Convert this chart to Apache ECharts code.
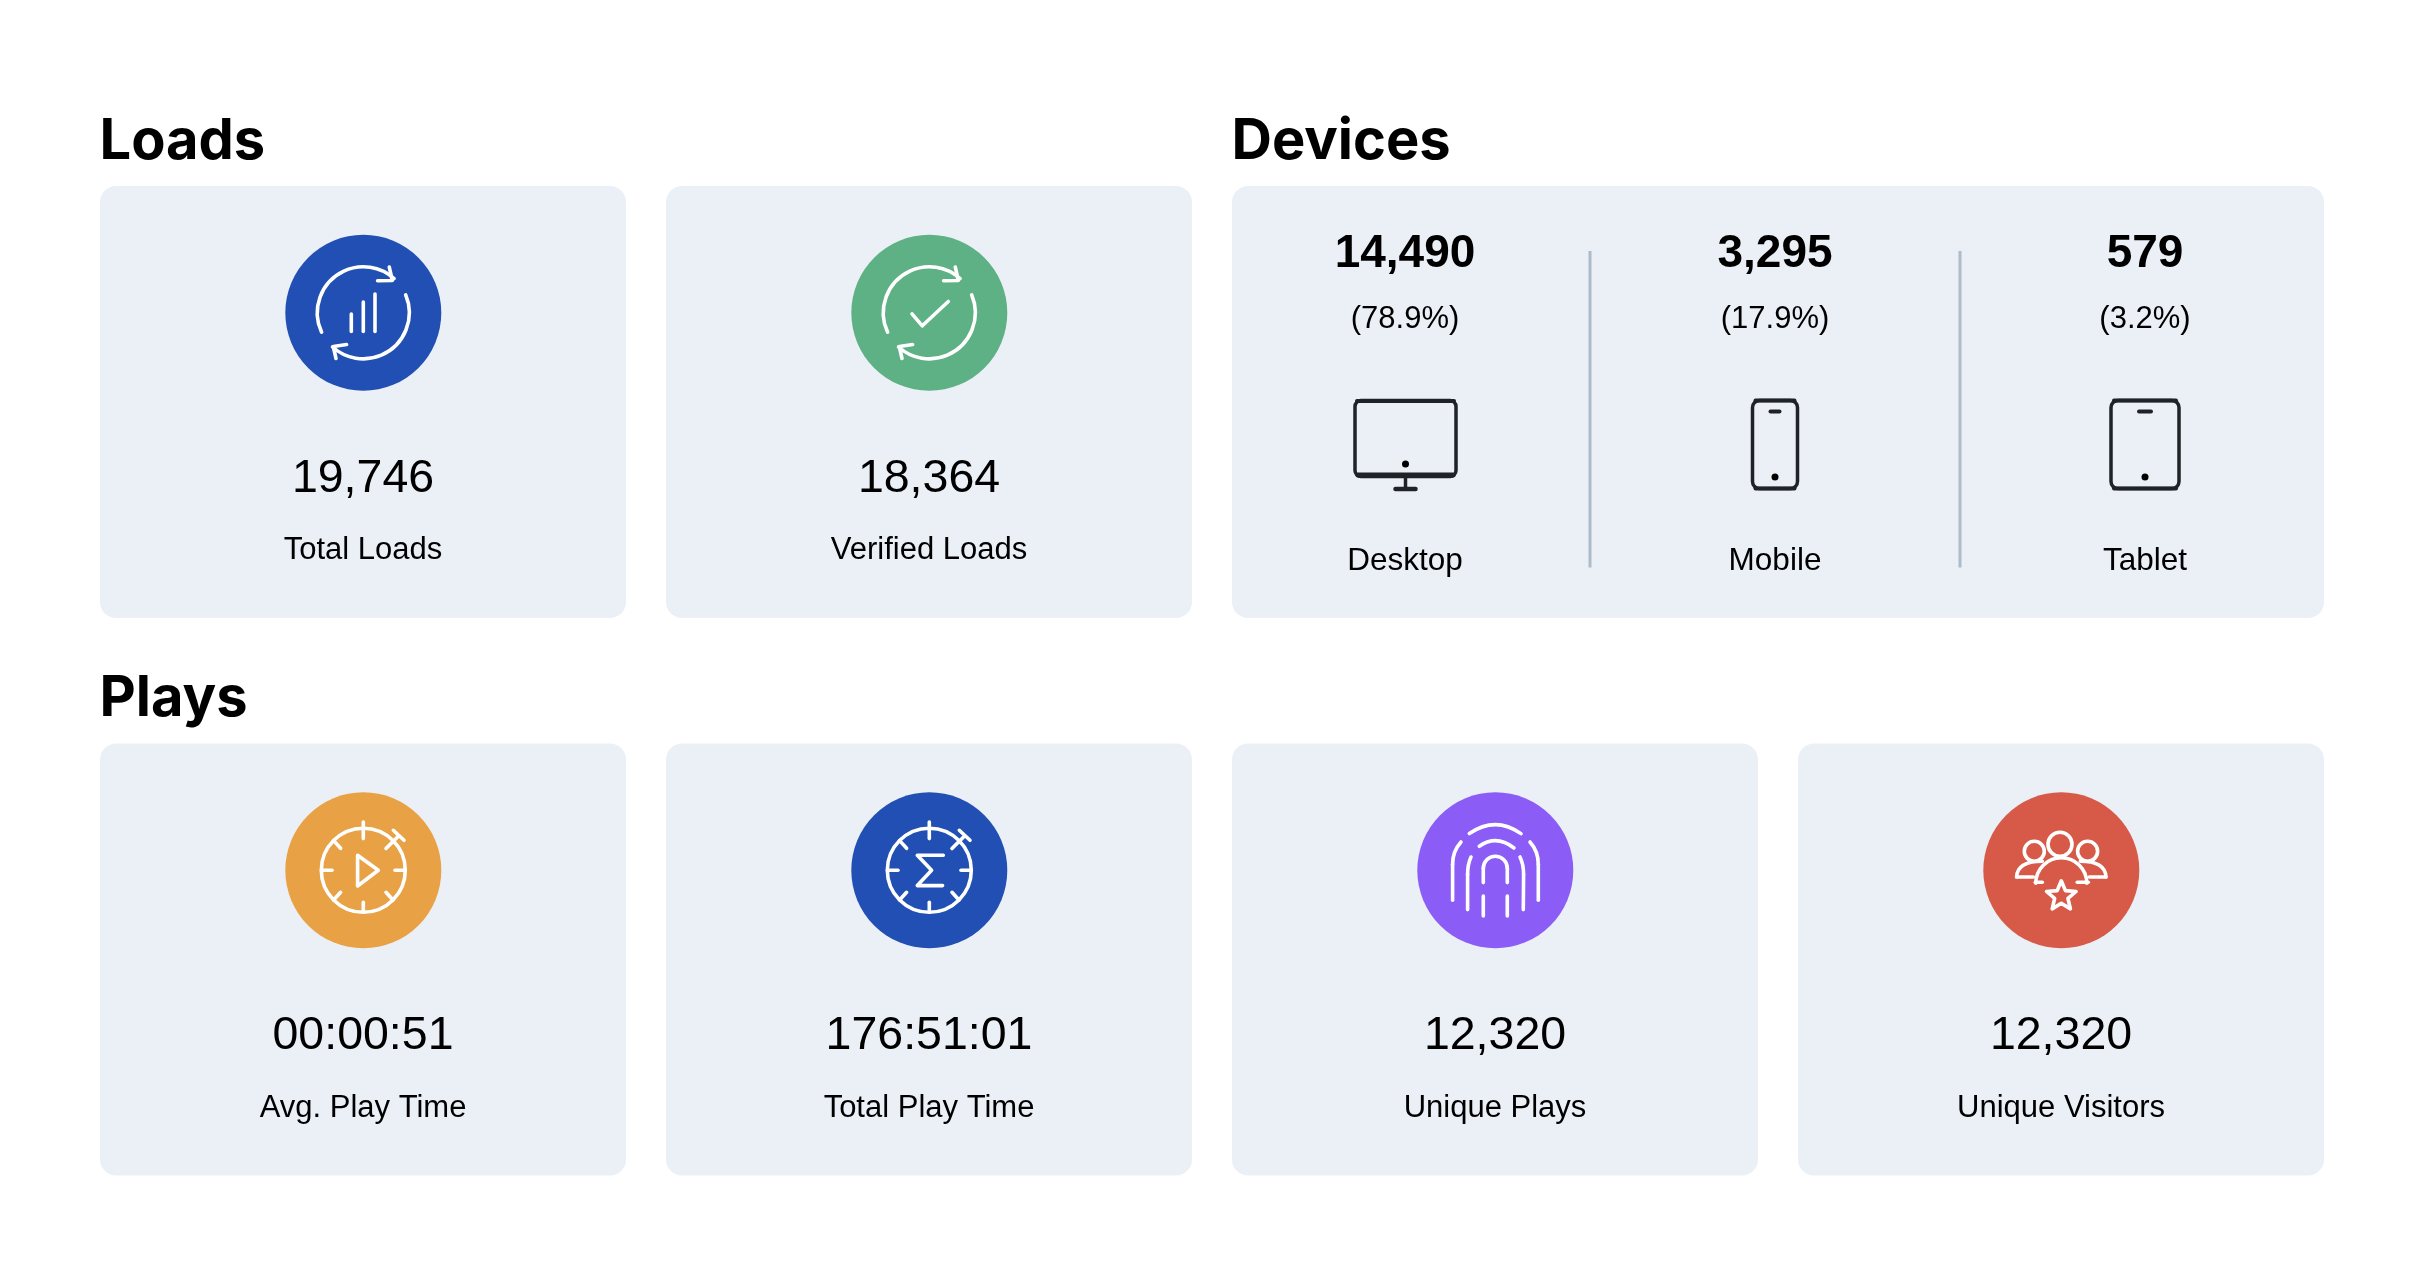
<!DOCTYPE html>
<html>
<head>
<meta charset="utf-8">
<style>html,body{margin:0;padding:0;background:#fff}#c{width:2424px;height:1288px}</style>
<script src="https://cdn.jsdelivr.net/npm/echarts@6/dist/echarts.min.js"></script>
</head>
<body>
<div id="c"></div>
<script>
// ---- data ----
var sectionTitles = ['Loads', 'Devices', 'Plays'];
var kpiLabels = ['Total Loads', 'Verified Loads', 'Avg. Play Time', 'Total Play Time', 'Unique Plays', 'Unique Visitors'];
var kpiValues = ['19,746', '18,364', '00:00:51', '176:51:01', '12,320', '12,320'];
var kpiColors = ['#214fb3', '#5eb085', '#e9a145', '#214fb3', '#8b5cf6', '#d75a48'];
var kpiIcons = ['bars', 'check', 'play', 'sigma', 'print', 'users'];
var kpiColumns = [0, 1, 0, 1, 2, 3];
var kpiRows = [0, 0, 1, 1, 1, 1];
var deviceLabels = ['Desktop', 'Mobile', 'Tablet'];
var deviceCounts = ['14,490', '3,295', '579'];
var deviceShares = ['(78.9%)', '(17.9%)', '(3.2%)'];
var columnNames = ['c1', 'c2', 'c3', 'c4'];
var rowNames = ['r1', 'r2'];

// ---- styling ----
var CARD = '#ebf0f7', INK = '#000000', SANS = '"Liberation Sans", Arial, sans-serif';
var HEAD = 'Inter, sans-serif', DARK = '#1f2226', RULE = '#aebbc9';
var CARD_W = 526, CARD_H = 432;
var MID = 0.29; // baseline to middle of text box, in ems
var ICON_W = 3.6;

function S(o, w, col) { return { stroke: col || '#fff', fill: 'none', lineWidth: w || ICON_W, lineCap: 'round', lineJoin: 'round' }; }
function ln(a, b, c, d, w, col) { return { type: 'line', shape: { x1: a, y1: b, x2: c, y2: d }, style: S(0, w, col) }; }
function pl(p, w, col) { return { type: 'polyline', shape: { points: p }, style: S(0, w, col) }; }
function arc(x, y, r, s, e) { return { type: 'arc', shape: { cx: x, cy: y, r: r, startAngle: s * Math.PI / 180, endAngle: e * Math.PI / 180, clockwise: true }, style: S() }; }
function ring(x, y, r) { return { type: 'circle', shape: { cx: x, cy: y, r: r }, style: S() }; }
function bz(a, b, cx, cy, c, d) { return { type: 'bezierCurve', shape: { x1: a, y1: b, x2: c, y2: d, cpx1: cx, cpy1: cy }, style: S() }; }

function refresh() {
  return [arc(0, 0, 46, 155, 312), pl([[14.3, -32], [29, -32.3], [26, -45.7]]),
          arc(0, 0, 46, -23, 132), pl([[-16.7, 31.7], [-30, 33.7], [-27.3, 45.7]])];
}
function watch() {
  return [ring(0, 0, 42), ln(0, -48.3, 0, -31.7), ln(0, 32, 0, 42), ln(-41.7, 0, -31.3, 0), ln(31.7, 0, 41.7, 0),
          ln(-29.7, -29.7, -22.7, -22), ln(-22.7, 22, -29.7, 29.7), ln(22.7, 22, 29.7, 29.7),
          ln(22.7, -21.7, 35, -34), ln(30, -40, 40.7, -30)];
}
function star(x, y, R, r) {
  var p = [], i, a, q;
  for (i = 0; i < 10; i++) { a = -Math.PI / 2 + i * Math.PI / 5; q = i % 2 ? r : R; p.push([x + q * Math.cos(a), y + q * Math.sin(a)]); }
  return { type: 'polygon', shape: { points: p }, style: S() };
}
var iconParts = {
  bars: function () { return refresh().concat([ln(-12, 1.3, -12, 18.7), ln(0, -10.7, 0, 18.7), ln(11.7, -18.7, 11.7, 18.7)]); },
  check: function () { return refresh().concat([pl([[-17.3, 1], [-7, 13], [19, -11.3]])]); },
  play: function () { return watch().concat([{ type: 'polygon', shape: { points: [[-5.7, -15], [15, 0], [-5.7, 15.7]] }, style: S() }]); },
  sigma: function () { return watch().concat([pl([[14, -15], [-12, -15], [2.3, 0], [-12, 15.3], [13.3, 15.3]])]); },
  print: function () {
    return [bz(-26, -36.7, 0, -54.7, 25.7, -36.7), bz(-16, -24, 1, -36, 18.7, -22.3),
            ln(-12, 12.3, -12, -2), arc(0, -2, 12, 180, 360), ln(12, -2, 12, 12.3),
            ln(-12, 25.7, -12, 45.7), ln(12, 25.7, 12, 45.7),
            bz(-24.3, -13.3, -27.7, -6, -27.7, 4), ln(-27.7, 4, -27.7, 39.3),
            bz(24.7, -13.3, 28.3, -6, 28.3, 4), ln(28.3, 4, 28, 39.3),
            bz(-34.3, -28.3, -42.7, -19, -42.7, -6), ln(-42.7, -6, -42.7, 30),
            bz(34.7, -28.3, 43, -19, 43, -6), ln(43, -6, 43, 30)];
  },
  users: function () {
    return [ring(-1.3, -26, 12), ring(26.3, -19, 10), ring(-27, -19, 10),
            arc(0, 13, 25.5, 180, 360), ln(-26, 12, -19, 12), ln(16, 12, 27, 12),
            bz(-44.7, 6.7, -44, -9, -19, -9), ln(-44.7, 6.7, -28, 6.7),
            bz(44.7, 6.7, 44, -9, 19, -9), ln(44.7, 6.7, 28, 6.7),
            star(0, 26, 15.5, 7)];
  }
};

function txt(s, x, base, size, weight, fam, align) {
  return { type: 'text', style: { text: s, x: x, y: base - size * MID, fill: INK, textAlign: align || 'center', textVerticalAlign: 'middle', verticalAlign: 'middle',
    fontFamily: fam || SANS, fontSize: size, fontWeight: weight || 400 } };
}
function cardRect(cx, cy, w) {
  return { type: 'rect', shape: { x: cx - w / 2, y: cy - CARD_H / 2, width: w, height: CARD_H, r: 16 }, style: { fill: CARD } };
}

function renderKpi(params, api) {
  var i = api.value(2), c = api.coord([api.value(0), api.value(1)]);
  var top = c[1] - CARD_H / 2;
  return { type: 'group', children: [
    cardRect(c[0], c[1], CARD_W),
    { type: 'circle', shape: { cx: c[0] + 0.3, cy: top + 126.8, r: 78 }, style: { fill: kpiColors[i] } },
    { type: 'group', x: c[0] + 0.3, y: top + 126.8, children: iconParts[kpiIcons[i]]() },
    txt(kpiValues[i], c[0], top + 306.5, 46.5),
    txt(kpiLabels[i], c[0], top + 373.5, 31)
  ] };
}

function deviceIcon(k) {
  if (k === 0) {
    return [{ type: 'rect', shape: { x: -50, y: -63.5, width: 101, height: 76, r: 6 }, style: S(0, 3.5, DARK) },
            ln(-48, -63, 49, -63, 4, DARK), ln(-47, 11, 48, 11, 5, DARK), ln(0.5, 13, 0.5, 25, 3.5, DARK), ln(-9.5, 25, 10.5, 25, 4.5, DARK),
            { type: 'circle', shape: { cx: 0.5, cy: 0, r: 3.5 }, style: { fill: '#000' } }];
  }
  var half = k === 1 ? 22.5 : 34, nh = k === 1 ? 4.5 : 6;
  return [{ type: 'rect', shape: { x: -half, y: -63.5, width: half * 2, height: 88, r: 7 }, style: S(0, 3.5, DARK) },
          ln(-half + 3, -63.5, half - 3, -63.5, 4, DARK), ln(-half + 3, 24.5, half - 3, 24.5, 4, DARK),
          ln(-nh, -52.5, nh, -52.5, 4, DARK),
          { type: 'circle', shape: { cx: 0, cy: 13, r: 3.5 }, style: { fill: '#000' } }];
}

function renderDevices(params, api) {
  var a = api.coord([2, 0]), b = api.coord([3, 0]);
  var mx = (a[0] + b[0]) / 2, top = a[1] - CARD_H / 2, w = b[0] - a[0] + CARD_W;
  var kids = [cardRect(mx, a[1], w)];
  var step = 370, x0 = mx - step - 3;
  deviceLabels.forEach(function (label, k) {
    var x = x0 + k * step;
    kids.push(txt(deviceCounts[k], x, top + 81.5, 46, 700));
    kids.push(txt(deviceShares[k], x, top + 142.5, 31));
    kids.push({ type: 'group', x: x, y: top + 278, children: deviceIcon(k) });
    kids.push(txt(label, x, top + 384.2, 31.5));
    if (k < 2) kids.push({ type: 'line', shape: { x1: x + step / 2, y1: top + 65, x2: x + step / 2, y2: top + 381.5 }, style: { stroke: RULE, lineWidth: 3 } });
  });
  return { type: 'group', children: kids };
}

function renderTitle(params, api) {
  var i = api.value(2), c = api.coord([api.value(0), api.value(1)]);
  var top = c[1] - CARD_H / 2;
  return txt(sectionTitles[i], c[0] - CARD_W / 2 - 0.5, top - 28, 56, 700, HEAD, 'left');
}

var chart = echarts.init(document.getElementById('c'));
chart.setOption({
  animation: false,
  backgroundColor: '#ffffff',
  tooltip: { show: false },
  grid: { left: 80, right: 80, top: 123.25, bottom: 49.75 },
  xAxis: { type: 'category', data: columnNames, show: false },
  yAxis: { type: 'category', data: rowNames, inverse: true, show: false },
  series: [
    { type: 'custom', name: 'Metrics', silent: true, renderItem: renderKpi, clip: false,
      data: kpiLabels.map(function (l, i) { return [kpiColumns[i], kpiRows[i], i]; }) },
    { type: 'custom', name: 'Devices', silent: true, renderItem: renderDevices, clip: false, data: [[2, 0, 0]] },
    { type: 'custom', name: 'Sections', silent: true, renderItem: renderTitle, clip: false,
      data: [[0, 0, 0], [2, 0, 1], [0, 1, 2]] }
  ]
});
</script>
</body>
</html>
